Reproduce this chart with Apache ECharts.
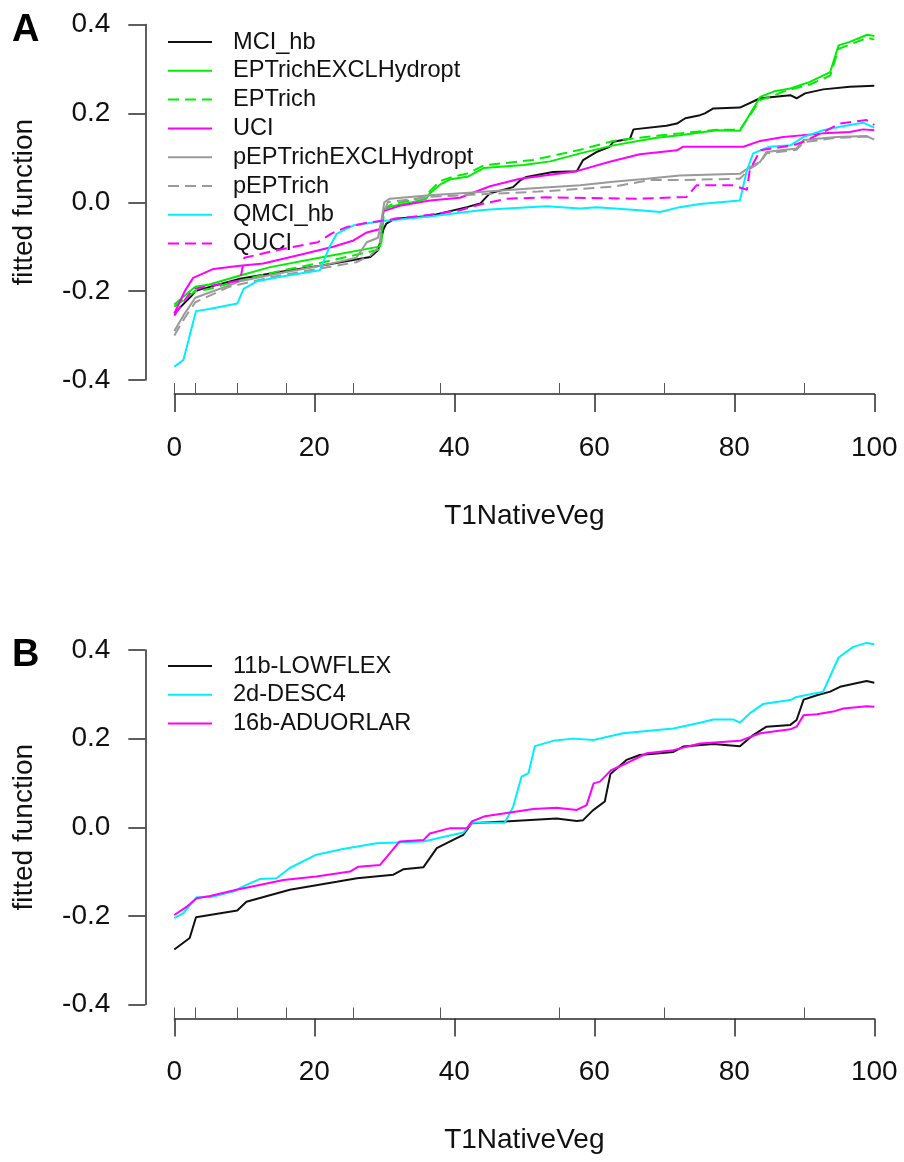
<!DOCTYPE html>
<html><head><meta charset="utf-8">
<script src="https://cdn.jsdelivr.net/npm/echarts@6/dist/echarts.min.js"></script>
<style>html,body{margin:0;padding:0;background:#fff}#c{width:904px;height:1162px}</style>
</head><body><div id="c"></div>
<script>
// ---- axis / tick data ----
const xMin = 0, xMax = 100, xStep = 20;
const yMin = -0.4, yMax = 0.4, yStep = 0.2;
const rugValues = [0, 3, 9, 16, 25.6, 38, 55, 70, 90];
const xTitle = 'T1NativeVeg';
const yTitle = 'fitted function';
const panelLabels = ['A', 'B'];

// ---- Panel A series ----
const namesA = ['MCI_hb','EPTrichEXCLHydropt','EPTrich','UCI','pEPTrichEXCLHydropt','pEPTrich','QMCI_hb','QUCI'];
const MCI_hb = [[0,-0.25],[2.5,-0.21],[3,-0.2],[4,-0.195],[9.4,-0.172],[15,-0.157],[21.3,-0.142],[28,-0.123],[29.1,-0.108],[29.9,-0.06],[30.3,-0.048],[31.5,-0.037],[36.5,-0.031],[41.8,-0.011],[43.7,-0.003],[44.6,0.012],[45.1,0.02],[48.4,0.034],[49.4,0.049],[50.3,0.057],[54.1,0.068],[57.5,0.07],[58.4,0.095],[60.3,0.113],[62.2,0.125],[62.7,0.136],[65.1,0.143],[65.6,0.164],[70.3,0.172],[71.8,0.177],[73,0.189],[75.1,0.196],[75.8,0.2],[77,0.211],[80.8,0.213],[83.7,0.234],[88,0.241],[88.9,0.234],[90.1,0.245],[92.7,0.254],[96.5,0.26],[100,0.262]];
const EPTrichEXCLHydropt = [[0,-0.23],[1.5,-0.21],[3,-0.19],[5,-0.185],[9.4,-0.165],[13.7,-0.146],[21.3,-0.123],[28.9,-0.101],[29.4,-0.099],[29.9,-0.018],[30.8,-0.01],[34,0.0],[36,0.008],[36.5,0.02],[38,0.04],[39.5,0.052],[42,0.058],[44.2,0.077],[49.9,0.084],[53.7,0.092],[58,0.11],[62.7,0.128],[68.9,0.145],[72.2,0.151],[77.5,0.162],[80.8,0.161],[83.7,0.237],[85.6,0.249],[88,0.256],[90.8,0.271],[93.7,0.293],[94.9,0.353],[96.5,0.361],[99,0.377],[100,0.374]];
const EPTrich = [[0,-0.235],[3,-0.2],[5,-0.195],[9.4,-0.176],[15,-0.155],[21.3,-0.135],[28.9,-0.108],[29.5,-0.105],[30,-0.015],[31,-0.005],[36,0.012],[36.5,0.025],[38,0.048],[40,0.058],[42,0.065],[44.2,0.083],[51.2,0.095],[55,0.108],[58,0.118],[62.7,0.138],[68,0.148],[72.2,0.155],[77.5,0.163],[80.8,0.163],[83.7,0.23],[85.6,0.24],[87,0.249],[90.8,0.265],[93.7,0.285],[94.9,0.345],[96.5,0.355],[99,0.37],[100,0.366]];
const UCI = [[0,-0.25],[1.5,-0.2],[2.7,-0.17],[5.6,-0.15],[9.4,-0.143],[12.7,-0.138],[18,-0.118],[22.7,-0.1],[25.6,-0.086],[27.5,-0.068],[29.4,-0.06],[29.9,-0.02],[32.2,-0.008],[36.5,0.004],[40.8,0.01],[45.1,0.036],[49.4,0.053],[57.5,0.07],[62.2,0.091],[66.5,0.108],[71.8,0.117],[72.7,0.125],[81.3,0.125],[83.7,0.138],[87,0.147],[92.7,0.155],[96.5,0.158],[98.4,0.164],[100,0.162]];
const pEPTrichEXCLHydropt = [[0,-0.29],[1.5,-0.25],[3,-0.215],[9.4,-0.178],[15,-0.16],[21.3,-0.142],[26,-0.125],[27.5,-0.09],[29.1,-0.08],[29.6,-0.04],[30,0.0],[30.8,0.008],[36.5,0.016],[43.7,0.023],[50.8,0.031],[58,0.038],[62.7,0.046],[67.5,0.053],[72.2,0.06],[80.8,0.064],[82.2,0.079],[83.7,0.091],[84.6,0.113],[88.9,0.121],[89.9,0.14],[94.6,0.147],[98.9,0.149],[100,0.141]];
const pEPTrich = [[0,-0.3],[1.5,-0.26],[3,-0.225],[7.9,-0.19],[14,-0.168],[19.4,-0.153],[26,-0.135],[28,-0.12],[29.3,-0.1],[29.8,-0.03],[30.5,0.0],[36.5,0.012],[43.7,0.018],[52,0.024],[58,0.03],[62.7,0.035],[68,0.05],[72.2,0.05],[80.8,0.053],[82.2,0.075],[83.7,0.09],[84.6,0.11],[88.9,0.118],[89.9,0.135],[94.6,0.145],[98.9,0.148],[100,0.145]];
const QMCI_hb = [[0,-0.37],[1.3,-0.355],[3.1,-0.245],[5,-0.24],[9,-0.228],[9.9,-0.195],[11.8,-0.178],[15,-0.168],[20.8,-0.153],[22.2,-0.1],[23.2,-0.071],[25.6,-0.052],[29.9,-0.042],[36.5,-0.032],[43.7,-0.018],[45.6,-0.016],[53.2,-0.009],[58,-0.014],[60.3,-0.011],[66.5,-0.018],[69.4,-0.022],[72.2,-0.011],[75.1,-0.004],[80.8,0.004],[81.8,0.072],[82.7,0.11],[85,0.125],[88,0.128],[89.9,0.147],[92.7,0.162],[95.1,0.17],[98.4,0.179],[100,0.168]];
const QUCI = [[0,-0.255],[1.5,-0.22],[2.7,-0.195],[9.4,-0.176],[10,-0.125],[15.5,-0.105],[20.5,-0.09],[22.5,-0.07],[24.6,-0.056],[27.5,-0.046],[29.9,-0.041],[36.5,-0.028],[40.8,-0.018],[43.7,-0.005],[47.5,0.008],[53.2,0.011],[66.5,0.008],[73.2,0.012],[74.6,0.038],[79.8,0.038],[81.8,0.028],[82.2,0.072],[83.7,0.117],[88.4,0.128],[89.9,0.136],[95.1,0.177],[98.9,0.185],[100,0.174]];

// ---- Panel B series ----
const namesB = ['11b-LOWFLEX','2d-DESC4','16b-ADUORLAR'];
const LOWFLEX = [[0,-0.276],[2.2,-0.25],[3.1,-0.203],[9,-0.188],[10.3,-0.168],[16.5,-0.141],[23.2,-0.123],[26.1,-0.115],[31.3,-0.107],[32.7,-0.095],[35.6,-0.09],[37.5,-0.047],[39.4,-0.032],[41.3,-0.017],[42.5,0.009],[47.2,0.013],[54.6,0.02],[57.5,0.014],[58.4,0.016],[59.8,0.038],[61.5,0.058],[62.3,0.12],[64.6,0.152],[66.5,0.163],[71.3,0.17],[72.7,0.182],[77,0.188],[80.8,0.183],[82.7,0.208],[84.6,0.227],[88,0.231],[88.9,0.242],[89.9,0.288],[91.8,0.298],[93.7,0.306],[95.1,0.317],[98.9,0.33],[100,0.326]];
const DESC4 = [[0,-0.205],[1.3,-0.194],[3.2,-0.158],[5.1,-0.158],[8.4,-0.145],[10.3,-0.13],[12.2,-0.117],[14.6,-0.115],[16.5,-0.092],[20.3,-0.062],[24.1,-0.049],[28.9,-0.036],[35.6,-0.032],[38.4,-0.022],[41.3,-0.012],[42.5,0.01],[47.2,0.01],[48.4,0.046],[49.6,0.114],[50.6,0.122],[51.5,0.183],[54.1,0.195],[57,0.2],[59.9,0.197],[64.1,0.212],[71.3,0.223],[75.1,0.236],[77,0.243],[79.9,0.243],[80.8,0.236],[82.2,0.257],[84.1,0.278],[88,0.287],[88.9,0.294],[92.7,0.306],[94.9,0.383],[97,0.407],[98.9,0.416],[100,0.413]];
const ADUORLAR = [[0,-0.198],[1.8,-0.179],[3.2,-0.16],[5.1,-0.155],[8.9,-0.141],[15.6,-0.119],[20.3,-0.111],[25.1,-0.1],[26.3,-0.089],[29.4,-0.085],[32.2,-0.032],[35.6,-0.029],[36.5,-0.014],[39.4,-0.002],[41.8,-0.002],[42.5,0.013],[44.4,0.025],[47.5,0.032],[51.3,0.041],[54.6,0.044],[57.5,0.039],[58.9,0.05],[59.9,0.099],[60.8,0.103],[62.4,0.129],[63.6,0.137],[67.5,0.167],[71.3,0.174],[75.1,0.189],[80.8,0.195],[83.7,0.212],[88,0.221],[88.9,0.227],[89.9,0.253],[91.8,0.255],[94.1,0.261],[95.6,0.268],[98.9,0.273],[100,0.272]];

// ---- styling (not data) ----
const FONT = 'Liberation Sans, Arial, sans-serif';
const BLACK = '#111111', GREEN = '#00ee00', MAG = '#ff00ff', GREY = '#9a9a9a', CYAN = '#00eeff';
const DASH = [11, 6];
const styleA = [[BLACK,'solid'],[GREEN,'solid'],[GREEN,DASH],[MAG,'solid'],[GREY,'solid'],[GREY,DASH],[CYAN,'solid'],[MAG,DASH]];
const dataA = [MCI_hb, EPTrichEXCLHydropt, EPTrich, UCI, pEPTrichEXCLHydropt, pEPTrich, QMCI_hb, QUCI];
const styleB = [[BLACK,'solid'],[CYAN,'solid'],[MAG,'solid']];
const dataB = [LOWFLEX, DESC4, ADUORLAR];

const grids = [
  {left: 174.3, width: 700, top: 24.5, height: 355.5},
  {left: 174.3, width: 700, top: 650, height: 354.5}
];
const axisCol = '#2a2a2a';
function fmtY(v){ return Math.abs(v) < 1e-9 ? '0.0' : v.toFixed(1); }

const xAxis = [], yAxis = [];
grids.forEach((g, i) => {
  xAxis.push({
    type: 'value', gridIndex: i, min: xMin, max: xMax, interval: xStep, position: 'bottom', offset: 14,
    axisLine: {show: true, onZero: false, lineStyle: {color: axisCol, width: 1.5}},
    axisTick: {show: true, length: 18, lineStyle: {color: axisCol, width: 1.5}},
    axisLabel: {fontSize: 28, fontFamily: FONT, color: '#111', margin: 40, showMinLabel: true, showMaxLabel: true},
    splitLine: {show: false},
    name: xTitle, nameLocation: 'middle', nameGap: 108,
    nameTextStyle: {fontSize: 28, fontFamily: FONT, color: '#111'}
  });
  xAxis.push({
    type: 'value', gridIndex: i, min: xMin, max: xMax, position: 'bottom', offset: 14,
    axisLine: {show: false, onZero: false},
    axisTick: {show: true, inside: true, length: 11, customValues: rugValues, lineStyle: {color: '#555', width: 1}},
    axisLabel: {show: false}, splitLine: {show: false}
  });
  yAxis.push({
    type: 'value', gridIndex: i, min: yMin, max: yMax, interval: yStep, position: 'left', offset: 29,
    axisLine: {show: true, onZero: false, lineStyle: {color: axisCol, width: 1.5}},
    axisTick: {show: true, length: 17, lineStyle: {color: axisCol, width: 1.5}},
    axisLabel: {fontSize: 28, fontFamily: FONT, color: '#111', margin: 35, formatter: fmtY},
    splitLine: {show: false},
    name: yTitle, nameLocation: 'middle', nameGap: 107,
    nameTextStyle: {fontSize: 28, fontFamily: FONT, color: '#111'}
  });
});

const series = [];
function addSeries(names, datas, styles, gi){
  names.forEach((n, k) => {
    series.push({
      name: n, type: 'line', xAxisIndex: gi * 2, yAxisIndex: gi,
      data: datas[k], symbol: 'none', showSymbol: false, smooth: false, clip: false,
      lineStyle: {color: styles[k][0], width: 2, type: styles[k][1]},
      itemStyle: {color: styles[k][0]}, z: 2 + k
    });
  });
}
addSeries(namesA, dataA, styleA, 0);
addSeries(namesB, dataB, styleB, 1);

const legendBase = {
  orient: 'vertical', left: 167, itemWidth: 44, itemHeight: 23.5, itemGap: 4.8, padding: 0,
  selectedMode: false,
  itemStyle: {opacity: 0},
  lineStyle: {width: 2},
  textStyle: {fontSize: 23.6, fontFamily: FONT, color: '#111', lineHeight: 23.5, padding: [0, 0, 0, 16]}
};

const option = {
  animation: false,
  backgroundColor: '#ffffff',
  grid: grids,
  xAxis: xAxis,
  yAxis: yAxis,
  legend: [
    Object.assign({}, legendBase, {top: 30, data: namesA}),
    Object.assign({}, legendBase, {top: 654, data: namesB})
  ],
  graphic: [
    {type: 'text', left: 12, top: 12, style: {text: panelLabels[0], font: 'bold 38px Liberation Sans, Arial, sans-serif', fill: '#000'}},
    {type: 'text', left: 12, top: 637, style: {text: panelLabels[1], font: 'bold 38px Liberation Sans, Arial, sans-serif', fill: '#000'}}
  ],
  series: series
};
const chart = echarts.init(document.getElementById('c'), null, {renderer: 'canvas'});
chart.setOption(option);
</script>
</body></html>
